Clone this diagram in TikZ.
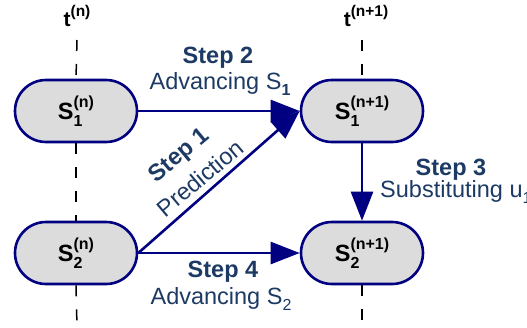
\documentclass[tikz,border=0pt]{standalone}
\usepackage{fontspec}
\setmainfont{Liberation Sans}
\usetikzlibrary{shapes.misc,arrows.meta}
\definecolor{navy}{RGB}{0,0,128}
\definecolor{steptext}{RGB}{28,58,100}
\definecolor{nodefill}{RGB}{220,220,220}
% symbol with stacked subscript and superscript
\newcommand{\stk}[3]{#1\rlap{\raisebox{-0.30em}{\fontsize{16}{16}\selectfont #2}}\raisebox{0.50em}{\fontsize{16}{16}\selectfont #3}}
\newcommand{\tlev}[1]{t\raisebox{0.45em}{\fontsize{15.5}{15.5}\selectfont #1}}
\newcommand{\lowsub}[1]{\raisebox{-0.28em}{\fontsize{16}{16}\selectfont #1}}
\begin{document}
\begin{tikzpicture}[x=1pt,y=-1pt,
  state/.style={rounded rectangle, draw=navy, line width=2.6pt, fill=nodefill,
    minimum width=122pt, minimum height=62pt, inner sep=0pt,
    font=\fontsize{23.5}{23.5}\selectfont\bfseries},
  flow/.style={draw=navy, line width=2.6pt, -{Triangle[length=29pt,width=22pt]}},
  timeline/.style={line width=1.5pt, dash pattern=on 11pt off 13pt},
  steptitle/.style={text=steptext, font=\fontsize{23.5}{23.5}\selectfont\bfseries, inner sep=0pt, anchor=base},
  stepname/.style={text=steptext, font=\fontsize{23.5}{23.5}\selectfont, inner sep=0pt, anchor=base},
  timelabel/.style={font=\fontsize{21}{21}\selectfont\bfseries, inner sep=0pt, anchor=base}]
\useasboundingbox (0,0) rectangle (527,327);

% time levels
\node[timelabel] (tn)  at (77,26)  {\tlev{(n)}};
\node[timelabel] (tn1) at (366,26) {\tlev{(n+1)}};

% states
\node[state] (s1n)  at (76,111)  {\stk{S}{1}{(n)}};
\node[state] (s1n1) at (362,111) {\stk{S}{1}{(n+1)}};
\node[state] (s2n)  at (76,253)  {\stk{S}{2}{(n)}};
\node[state] (s2n1) at (362,253) {\stk{S}{2}{(n+1)}};

% dashed time lines
\coordinate (ltop) at (77,40);
\coordinate (lbot) at (77,327);
\coordinate (rtop) at (362,40);
\coordinate (rbot) at (362,327);
\draw[timeline] (ltop) -- (s1n.north);
\draw[timeline] (s1n.south) -- (s2n.north);
\draw[timeline] (s2n.south) -- (lbot);
\draw[timeline] (rtop) -- (s1n1.north);
\draw[timeline] (s2n1.south) -- (rbot);

% steps
\draw[flow] (s1n.east) -- (s1n1.west);
\draw[flow] (s2n.east) -- (s1n1.west);
\draw[flow] (s1n1.south) -- (s2n1.north);
\draw[flow] (s2n.east) -- (s2n1.west);

% step labels
\node[steptitle] (st2) at (218,63) {Step 2};
\node[stepname]  (sn2) at (220,89) {Advancing S\lowsub{\bfseries 1}};
\node[steptitle, anchor=center, rotate=40] (st1) at (180,156) {Step 1};
\node[stepname,  anchor=center, rotate=40] (sn1) at (200,178) {Prediction};
\node[steptitle] (st3) at (451,175) {Step 3};
\node[stepname, anchor=base west] (sn3) at (380,197) {Substituting u\lowsub{1}};
\node[steptitle] (st4) at (223,277) {Step 4};
\node[stepname]  (sn4) at (221,304) {Advancing S\lowsub{2}};
\end{tikzpicture}
\end{document}
